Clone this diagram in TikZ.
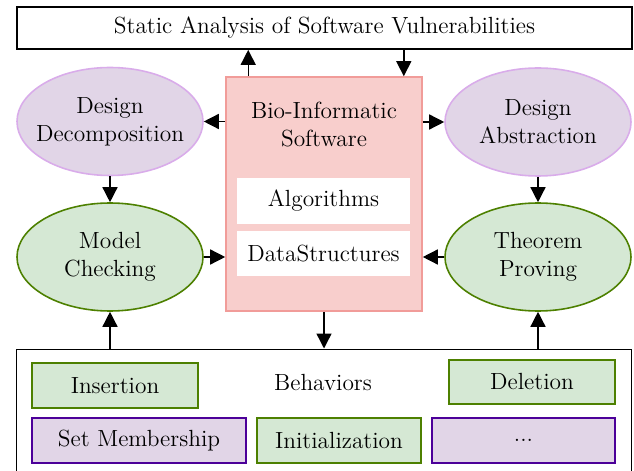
\documentclass[tikz,border=0pt]{standalone}
\usepackage{tikz}
\usetikzlibrary{arrows.meta,positioning,shapes.geometric}

\definecolor{pinkfill}{HTML}{F8CECC}
\definecolor{pinkline}{HTML}{F19C99}
\definecolor{lilacfill}{HTML}{E1D5E7}
\definecolor{lilacline}{HTML}{D9ACEA}
\definecolor{violetline}{HTML}{4C0099}
\definecolor{greenfill}{HTML}{D5E8D4}
\definecolor{greenline}{HTML}{4D8000}

\tikzset{every node/.style={ % Text of every node
            font=\fontsize{13.3}{16}\selectfont,
            align=center},
        oval/.style={ % Ellipses around the middle block
            ellipse, inner xsep=-0.3cm, inner ysep=0pt, line width=0.9pt,
            minimum width=3.72cm, minimum height=2.16cm},
        design/.style={oval, draw=lilacline, fill=lilacfill},
        proof/.style={oval, draw=greenline, fill=greenfill},
        block/.style={ % Plain rectangles
            rectangle, line width=0.9pt, minimum height=0.89cm},
        frame/.style={block, draw=black, line width=1pt},
        greenbox/.style={block, draw=greenline, fill=greenfill},
        violetbox/.style={block, draw=violetline, fill=lilacfill},
        every edge/.style={ % Sets the properties for each connector
            draw,
            -{Triangle[length=0.3cm,width=0.3cm]},
            line width=0.8pt}
        }

\begin{document}
\begin{tikzpicture}
    \useasboundingbox (0,0) rectangle (12.68,-9.42);

    \node[frame, minimum width=12.3cm, minimum height=0.84cm] (top) at (6.49,-0.56) {Static Analysis of Software Vulnerabilities};

    % middle block with its two parts
    \node[block, draw=pinkline, fill=pinkfill, minimum width=3.92cm, minimum height=4.68cm] (bio) at (6.48,-3.88) {};
    \node (biolbl) at (6.48,-2.49) {Bio-Informatic\\Software};
    \node[block, fill=white, draw=none, minimum width=3.46cm, minimum height=0.92cm] (alg) at (6.47,-4.02) {Algorithms};
    \node[block, fill=white, draw=none, minimum width=3.46cm, minimum height=0.9cm] (ds) at (6.47,-5.07) {DataStructures};

    \node[design] (dd) at (2.2,-2.43)   {Design\\Decomposition};
    \node[design] (da) at (10.76,-2.44) {Design\\Abstraction};
    \node[proof]  (mc) at (2.2,-5.14)   {Model\\Checking};
    \node[proof]  (tp) at (10.76,-5.14) {Theorem\\Proving};

    % behaviours along the bottom
    \node[frame, minimum width=12.3cm, minimum height=3.2cm, anchor=north] (behav) at (6.48,-6.97) {};
    \node (behavlbl) at (6.46,-7.66) {Behaviors};
    \node[greenbox, minimum width=3.32cm]  (ins)  at (2.3,-7.71)   {Insertion};
    \node[greenbox, minimum width=3.32cm]  (del)  at (10.64,-7.64) {Deletion};
    \node[violetbox, minimum width=4.28cm] (setm) at (2.78,-8.81)  {Set Membership};
    \node[greenbox, minimum width=3.28cm]  (init) at (6.78,-8.81)  {Initialization};
    \node[violetbox, minimum width=3.66cm] (more) at (10.47,-8.81) {...};

    \draw ([xshift=0.46cm]bio.north west) edge ([xshift=0.46cm]bio.north west |- top.south);
    \draw ([xshift=-0.38cm]bio.north east |- top.south) edge ([xshift=-0.38cm]bio.north east);

    \draw (bio.west |- dd.east) edge (dd.east);
    \draw (bio.east |- da.west) edge (da.west);
    \draw (dd.south) edge (mc.north);
    \draw (da.south) edge (tp.north);
    \draw (mc.east) edge (bio.west |- mc.east);
    \draw (tp.west) edge (bio.east |- tp.west);

    \draw (bio.south) edge (bio.south |- behav.north);
    \draw (mc.south |- behav.north) edge (mc.south);
    \draw (tp.south |- behav.north) edge (tp.south);
\end{tikzpicture}
\end{document}
